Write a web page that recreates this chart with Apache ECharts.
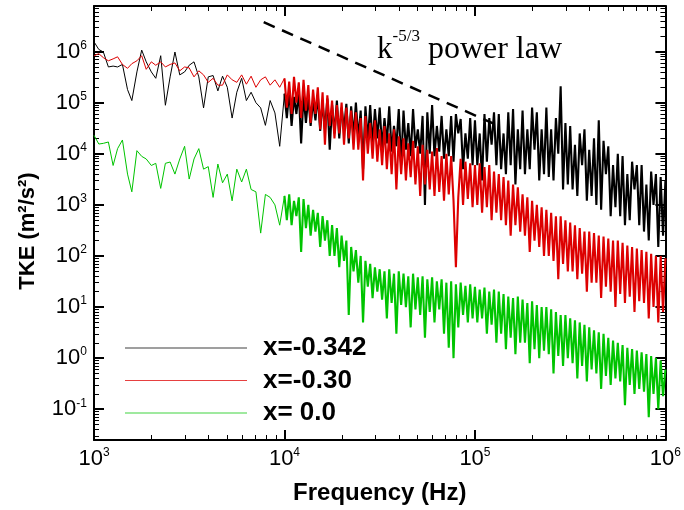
<!DOCTYPE html>
<html>
<head>
<meta charset="utf-8">
<script src="https://cdn.jsdelivr.net/npm/echarts@6.0.0/dist/echarts.min.js"></script>
<style>
  html, body { margin: 0; padding: 0; background: #fff; }
  #chart { width: 684px; height: 510px; }
</style>
</head>
<body>
<div id="chart"></div>
<script>
// frequency (Hz), shared by the three spectra
var freq = [
  1000,1060,1120,1190,1260,1330,1410,1500,1580,1680,1780,1880,2000,2110,2240,2370,2510,2660,2820,2990,
  3160,3350,3550,3760,3980,4220,4470,4730,5010,5310,5620,5960,6310,6680,7080,7500,7940,8410,8910,9440,
  10000,10290,10590,10900,11220,11550,11890,12230,12590,12960,13340,13720,14130,14540,14960,15400,15850,16310,16790,17280,
  17780,18300,18840,19390,19950,20540,21130,21750,22390,23040,23710,24410,25120,25850,26610,27380,28180,29010,29850,30730,
  31620,32550,33500,34470,35480,36520,37580,38680,39810,40970,42170,43400,44670,45970,47320,48700,50120,51580,53090,54640,
  56230,57880,59570,61310,63100,64940,66830,68790,70790,72860,74990,77180,79430,81750,84140,86600,89130,91730,94410,97160,
  100000,102900,105900,109000,112200,115500,118900,122300,125900,129600,133400,137200,141300,145400,149600,154000,158500,163100,167900,172800,
  177800,183000,188400,193900,199500,205400,211300,217500,223900,230400,237100,244100,251200,258500,266100,273800,281800,290100,298500,307300,
  316200,325500,335000,344700,354800,365200,375800,386800,398100,409700,421700,434000,446700,459700,473200,487000,501200,515800,530900,546400,
  562300,578800,595700,613100,631000,649400,668300,687900,707900,728600,749900,771800,794300,817500,841400,866000,891300,917300,944100,971600,
  1000000
];

// TKE (m2/s2), x=-0.342
var tkeA = [
  1.55e6,1.1e6,9.8e5,5e5,5.2e5,5e5,5.6e5,1.8e5,1.1e5,4e5,
  1.07e6,6.3e5,4e5,3e5,8.3e5,8.9e4,3.2e5,9.8e5,3.5e5,4e5,
  5.4e5,6.3e5,3.2e5,7.9e4,3.2e5,3.4e5,1.7e5,3.3e5,2e5,5e4,
  1.6e5,3e5,1.1e5,1.6e5,1e5,7.9e4,3.6e4,1.1e5,6.3e4,1.4e4,
  1.5e5,5e4,1.7e5,3.5e4,1.3e5,6e4,1.6e5,1.6e4,1.4e5,4e4,
  1.3e5,3.5e4,1.1e5,4.5e4,1.4e5,2.8e4,1e5,3e4,1.2e5,1.2e4,
  9e4,2.5e4,1.1e5,2e4,8e4,3e4,9.5e4,1.6e4,8.5e4,2.2e4,
  1e5,2e4,7e4,5e3,8.5e4,1.8e4,9e4,1.5e4,7.5e4,2e4,
  8e4,1.3e4,5e4,1.6e4,8.5e4,1.1e4,3.5e4,1.4e4,7.5e4,6e3,
  7e4,1.2e4,4e4,9e3,7.5e4,1.3e4,3e4,1e4,5.5e4,1e3,
  6.5e4,1e4,9e4,9e3,3.5e4,1.1e4,5.5e4,8e3,3e4,9e3,
  5.5e4,7e3,6e4,2.5e4,4.8e4,5e3,2.5e4,8e3,5e4,6e3,
  4.5e4,6e3,2.5e4,3e3,6e4,7e3,5e4,1.5e4,6.5e4,6e3,
  6e4,5e3,2.5e4,4e3,6.5e4,6e3,7.5e4,2.5e3,3e4,5e3,
  7e4,4e3,3e4,5e3,8e4,1.2e4,6.5e4,3e3,3e4,4e3,
  8e4,3.5e3,3e4,3e3,5e4,1e4,2.1e5,2e3,4e4,2.5e3,
  3.5e4,2e3,1.5e4,1.5e3,2.5e4,6e3,3e4,1.2e3,1.2e4,1.5e3,
  2e4,1e3,4.5e4,8e2,1.8e4,4e3,1.4e4,6e2,6e3,9e2,
  1e4,6e2,9e3,4e2,4e3,5e2,7e3,2e3,6e3,4e2,
  6e3,3e2,2.5e3,2e2,4.5e3,1e3,4e3,1.5e2,3.5e3,2.5e2,
  3e3
];

// TKE (m2/s2), x=-0.30
var tkeB = [
  8.3e5,9.1e5,7.6e5,6.6e5,7.2e5,7.9e5,5.6e5,4.7e5,5.8e5,6.6e5,
  8.3e5,4.5e5,6.3e5,5.4e5,6.3e5,5e5,5.6e5,6e5,4.2e5,5e5,
  4.8e5,3.2e5,4.2e5,3.5e5,2.5e5,3e5,2.2e5,2.2e5,3.5e5,2.8e5,
  2.5e5,3.5e5,2.3e5,3.3e5,2e5,2.8e5,3.2e5,2.2e5,2.8e5,2e5,
  3e5,8e4,2.6e5,6e4,3.2e5,1e5,2.5e5,5e4,2.8e5,7e4,
  2.2e5,4e4,1.8e5,6e4,2e5,3e4,1.6e5,1.5e4,1.4e5,3.5e4,
  1.1e5,2e4,9e4,2.5e4,1e5,1.5e4,8e4,2e4,7e4,1.2e4,
  6.5e4,1.2e4,5e4,3e3,5.5e4,1e4,4e4,8e3,4.5e4,7e3,
  3e4,6e3,3.5e4,5e3,2.5e4,4e3,3e4,2e3,2.2e4,4e3,
  2e4,3e3,1.6e4,3.5e3,1.8e4,2.5e3,1.4e4,1.5e3,1.5e4,2.5e3,
  1.2e4,2e3,1.1e4,1.5e3,1.3e4,1.8e3,9e3,1.2e3,1e4,1.6e3,
  9e3,1.2e3,60,1.4e3,8e3,1e3,7e3,1.3e3,6.5e3,9e2,
  6e3,1e3,6.5e3,7e2,5.5e3,9e2,6e3,5e2,4.5e3,7e2,
  4e3,5e2,3.5e3,4e2,3e3,2.5e2,2.5e3,4e2,2.2e3,3e2,
  1.6e3,2.5e2,1.4e3,1.2e2,1.2e3,2e2,1e3,1.5e2,9e2,1e2,
  8e2,1e2,7e2,80,6e2,35,6e2,70,5e2,50,
  4.5e2,50,4e2,35,3.5e2,45,3e2,20,3e2,30,
  2.8e2,30,2.5e2,15,2.4e2,25,2.2e2,20,2e2,10,
  2e2,18,1.8e2,12,1.6e2,16,1.5e2,8,1.4e2,13,
  1.3e2,12,1.2e2,6,1.1e2,10,1e2,5,1e2,8,
  90
];

// TKE (m2/s2), x= 0.0
var tkeC = [
  2.3e4,1.55e4,1.6e4,1.7e4,5.9e3,1.26e4,1.86e4,4e3,1.8e3,1.15e4,
  8.9e3,7.9e3,5.9e3,6.5e3,2.1e3,6.5e3,6.9e3,4e3,7.9e3,1.4e4,
  3.2e3,7.9e3,1.26e4,5e3,5.6e3,1.4e3,6.3e3,2.7e3,4e3,1.2e3,
  5e3,2.8e3,5e3,2e3,1.8e3,2.8e2,1.6e3,1.4e3,1e3,4e2,
  1.5e3,5e2,1.6e3,4e2,1.2e3,6e2,1.4e3,1.2e2,1.3e3,3.5e2,
  1e3,2.5e2,8e2,3e2,7e2,1.5e2,6e2,2e2,5e2,1e2,
  4e2,1e2,3.5e2,60,2.5e2,80,2e2,7,1.5e2,50,
  1.3e2,30,1e2,5,80,25,70,15,60,20,
  55,14,50,6,55,12,45,3,50,11,
  45,10,40,4,45,9,38,7,40,2.5,
  35,8,38,5,32,9,35,3,30,1.6,
  32,1,28,4,30,7,26,5,28,6,
  25,5,22,6,24,3,20,4.5,22,2,
  20,3,18,1.5,16,2.5,15,1.2,16,2,
  14,2,12,0.8,13,1.5,11,1,10,1.4,
  10,1.2,9,0.5,8,1.1,7,0.7,7,1,
  6,0.8,5.5,0.4,5,0.7,4.5,0.35,4,0.6,
  3.5,0.5,3.2,0.25,3,0.45,2.5,0.3,2.2,0.4,
  2,0.35,1.8,0.12,1.6,0.3,1.5,0.2,1.4,0.25,
  1.3,0.22,1.2,0.07,1.1,0.2,1,0.1,0.9,0.18,
  0.6
];

var seriesNames = ['x=-0.342', 'x=-0.30', 'x= 0.0'];
var seriesColors = ['#000000', '#dd0000', '#00c400'];

// k^-5/3 reference line end points
var refFreq = [7780, 135000];
var refTke = [3.76e6, 3.45e4];

var xMajor = [1e3, 1e4, 1e5, 1e6];
var yMajor = [0.1, 1, 10, 100, 1e3, 1e4, 1e5, 1e6];
var xMin = 1e3, xMax = 1e6;
var yMin = 0.025, yMax = 7.8e6;

// index where the sampling becomes dense (10 kHz)
var denseFrom = 40;

function minorOf(major, lo, hi) {
  var out = [];
  var decades = [major[0] / 10].concat(major);
  decades.forEach(function (d) {
    for (var m = 2; m <= 9; m++) {
      var v = d * m;
      if (v > lo && v < hi) out.push(v);
    }
  });
  return out;
}
var xMinor = minorOf(xMajor, xMin, xMax);
var yMinor = minorOf(yMajor, yMin, yMax);

function pairs(xs, ys) {
  return xs.map(function (x, i) { return [x, ys[i]]; });
}

var supRich = {
  a: { fontFamily: 'Liberation Sans', fontSize: 22, color: '#000', lineHeight: 24 },
  b: { fontFamily: 'Liberation Sans', fontSize: 12, color: '#000', verticalAlign: 'top' }
};
function powLabel(v) {
  return '{a|10}{b|' + Math.round(Math.log10(v)) + '}';
}

function mkAxis(dim, position, major, withLabel) {
  return {
    type: 'log',
    logBase: 10,
    min: dim === 'x' ? xMin : yMin,
    max: dim === 'x' ? xMax : yMax,
    position: position,
    axisLine: { show: major, onZero: false, lineStyle: { color: '#000', width: 2 } },
    axisTick: {
      show: true,
      inside: true,
      length: major ? 10 : 5,
      lineStyle: { color: '#000', width: major ? 2 : 1 },
      customValues: dim === 'x' ? (major ? xMajor : xMinor) : (major ? yMajor : yMinor)
    },
    axisLabel: {
      show: withLabel,
      customValues: dim === 'x' ? xMajor : yMajor,
      formatter: powLabel,
      rich: supRich,
      margin: 7
    },
    splitLine: { show: false },
    minorTick: { show: false },
    minorSplitLine: { show: false },
    axisPointer: { show: false }
  };
}

var xAxes = [
  mkAxis('x', 'bottom', true, true),
  mkAxis('x', 'bottom', false, false),
  mkAxis('x', 'top', true, false),
  mkAxis('x', 'top', false, false)
];
xAxes[0].name = 'Frequency (Hz)';
xAxes[0].nameLocation = 'middle';
xAxes[0].nameGap = 41;
xAxes[0].nameTextStyle = { fontFamily: 'Liberation Sans', fontWeight: 'bold', fontSize: 24, color: '#000' };

var yAxes = [
  mkAxis('y', 'left', true, true),
  mkAxis('y', 'left', false, false),
  mkAxis('y', 'right', true, false),
  mkAxis('y', 'right', false, false)
];
yAxes[0].name = 'TKE (m\u00b2/s\u00b2)';
yAxes[0].nameLocation = 'middle';
yAxes[0].nameGap = 55;
yAxes[0].nameTextStyle = { fontFamily: 'Liberation Sans', fontWeight: 'bold', fontSize: 22, color: '#000', padding: [0, 16, 0, 0] };

// each spectrum: thin line for the sparse low-frequency part, heavier stroke where samples are dense
var spectra = [tkeA, tkeB, tkeC];
var series = [];
spectra.forEach(function (vals, s) {
  var all = pairs(freq, vals);
  series.push({
    name: seriesNames[s], type: 'line', data: all.slice(0, denseFrom + 1),
    symbol: 'none', lineStyle: { color: seriesColors[s], width: 1 },
    itemStyle: { color: seriesColors[s] }, z: 2 + s
  });
  series.push({
    name: seriesNames[s], type: 'line', data: all.slice(denseFrom),
    symbol: 'none', lineStyle: { color: seriesColors[s], width: 2.1 },
    itemStyle: { color: seriesColors[s] }, z: 2 + s
  });
});
series.push({
  name: 'k-5/3', type: 'line', data: pairs(refFreq, refTke),
  symbol: 'none', lineStyle: { color: '#000', width: 2.5, type: [12, 8] }, z: 6
});

var chart = echarts.init(document.getElementById('chart'), null, { renderer: 'canvas' });
chart.setOption({
  animation: false,
  backgroundColor: '#fff',
  grid: { left: 94, right: 14, top: 6, bottom: 61, containLabel: false },
  xAxis: xAxes,
  yAxis: yAxes,
  legend: {
    data: seriesNames.map(function (n, i) {
      return {
        name: n,
        icon: 'rect',
        itemStyle: { color: seriesColors[i], borderWidth: 0, opacity: 0.75 },
        lineStyle: { color: seriesColors[i] }
      };
    }),
    orient: 'vertical',
    left: 120,
    top: 330,
    itemWidth: 122,
    itemHeight: 1,
    itemGap: 6.5,
    selectedMode: false,
    formatter: function (n) { return '{g|}' + n; },
    textStyle: {
      fontFamily: 'Liberation Sans',
      fontWeight: 'bold',
      fontSize: 26,
      lineHeight: 26,
      color: '#000',
      rich: { g: { width: 11 } }
    }
  },
  graphic: [{
    type: 'text',
    left: 377,
    top: 28,
    style: {
      text: '{k|k}{s|-5/3}{p| power law}',
      rich: {
        k: { fontFamily: 'Liberation Serif', fontSize: 31, lineHeight: 44, fill: '#000' },
        s: { fontFamily: 'Liberation Serif', fontSize: 17, verticalAlign: 'top', fill: '#000' },
        p: { fontFamily: 'Liberation Serif', fontSize: 32, lineHeight: 44, fill: '#000' }
      }
    }
  }],
  series: series
});
</script>
</body>
</html>
